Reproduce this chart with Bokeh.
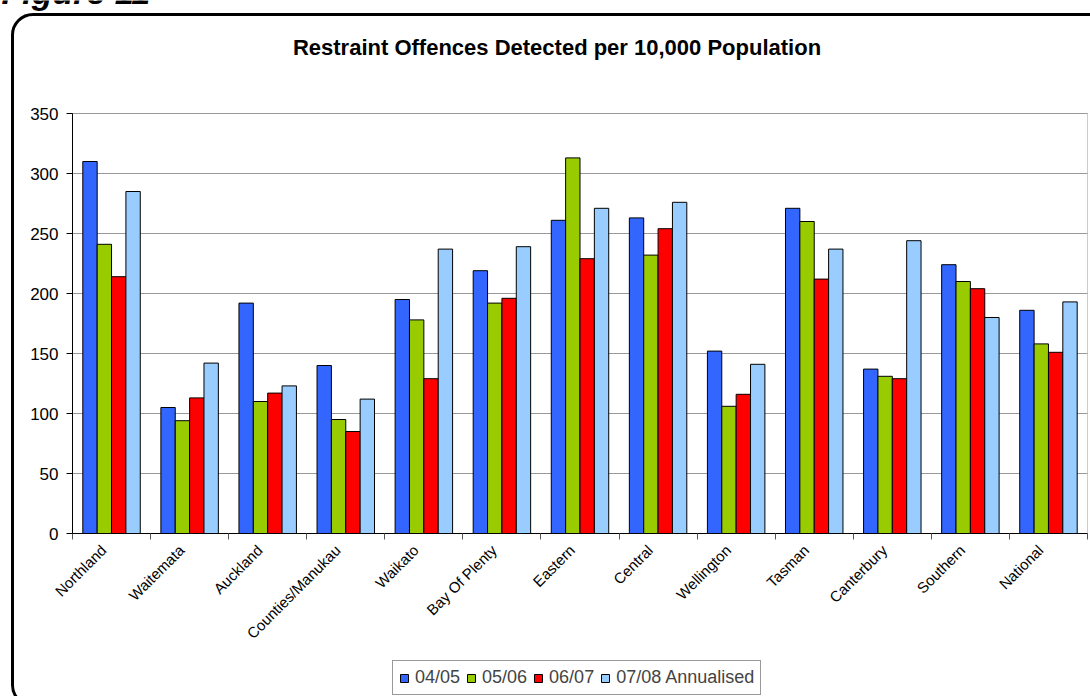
from math import pi

from bokeh.core.properties import value
from bokeh.embed import file_html
from bokeh.models import (BoxAnnotation, ColumnDataSource, FixedTicker,
                          InlineStyleSheet, Legend, LegendItem, Range1d)
from bokeh.plotting import figure
from bokeh.resources import INLINE

# Police districts and national total
regions = ["Northland", "Waitemata", "Auckland", "Counties/Manukau", "Waikato",
           "Bay Of Plenty", "Eastern", "Central", "Wellington", "Tasman",
           "Canterbury", "Southern", "National"]

# Restraint offences detected per 10,000 population, by financial year
y0405 = [310, 105, 192, 140, 195, 219, 261, 263, 152, 271, 137, 224, 186]
y0506 = [241, 94, 110, 95, 178, 192, 313, 232, 106, 260, 131, 210, 158]
y0607 = [214, 113, 117, 85, 129, 196, 229, 254, 116, 212, 129, 204, 151]
y0708 = [285, 142, 123, 112, 237, 239, 271, 276, 141, 237, 244, 180, 193]

series_names = ["04/05", "05/06", "06/07", "07/08 Annualised"]
series_values = [y0405, y0506, y0607, y0708]
series_colors = ["#3366FF", "#99CC00", "#FF0000", "#99CCFF"]

y_ticks = [0, 50, 100, 150, 200, 250, 300, 350]
Y_MAX = 350

FONT = "Liberation Sans"

# page geometry (pixels): the plotting area sits inside a larger canvas that
# also carries the heading, the slanted names and the legend
W, H = 1090, 696
AREA_L, AREA_R, AREA_T, AREA_B = 72, 1087, 113, 533
n = len(regions)
ppx = (AREA_R - AREA_L) / n
ppy = (AREA_B - AREA_T) / Y_MAX


def px_x(px):
    return (px - AREA_L) / ppx


def px_y(py):
    return (AREA_B - py) / ppy


bar_w = 0.184
offsets = [-1.5 * bar_w, -0.5 * bar_w, 0.5 * bar_w, 1.5 * bar_w]

# rounded black frame drawn around the chart by the page itself
frame_css = InlineStyleSheet(css="""
:host { position: relative; overflow: hidden; }
:host::after {
  content: "";
  position: absolute;
  left: 11px; top: 13px; width: 1110px; height: 694px;
  box-sizing: border-box;
  border: 3px solid #000000;
  border-radius: 22px;
  pointer-events: none;
}
""")

p = figure(width=W, height=H, output_backend="svg", toolbar_location=None,
           x_range=Range1d(px_x(0), px_x(W)), y_range=Range1d(px_y(H), px_y(0)),
           x_axis_location="above", y_axis_location="right",
           min_border=0, stylesheets=[frame_css])
p.title.visible = False
p.background_fill_color = "white"
p.border_fill_color = "white"
p.outline_line_color = None
p.xgrid.visible = False
p.ygrid.visible = False

# horizontal gridlines across the plotting area
grid_src = ColumnDataSource(dict(x0=[0] * len(y_ticks), x1=[n] * len(y_ticks), y=y_ticks))
p.segment(x0="x0", x1="x1", y0="y", y1="y", source=grid_src,
          line_color="#999999", line_width=1)

# border of the plotting area
p.add_layout(BoxAnnotation(left=0, right=n, bottom=0, top=Y_MAX, fill_color=None,
                           fill_alpha=0, line_color="#555555", line_width=1,
                           level="underlay"))

centers = [i + 0.5 for i in range(n)]
renderers = []
for name, vals, col, off in zip(series_names, series_values, series_colors, offsets):
    src = ColumnDataSource(dict(x=[c + off for c in centers], top=vals))
    r = p.vbar(x="x", top="top", width=bar_w, bottom=0, source=src,
               fill_color=col, line_color="black", line_width=1)
    renderers.append(r)

# category axis pinned to y = 0, short downward ticks at the group boundaries
xax = p.xaxis[0]
xax.fixed_location = 0
xax.bounds = (0, n)
xax.ticker = FixedTicker(ticks=[], minor_ticks=list(range(n + 1)))
xax.major_tick_out = 0
xax.major_tick_in = 0
xax.minor_tick_out = 0
xax.minor_tick_in = 6
xax.minor_tick_line_color = "#555555"
xax.axis_line_color = "black"
xax.major_label_standoff = 0

# value axis pinned to x = 0, ticks pointing left
yax = p.yaxis[0]
yax.fixed_location = 0
yax.bounds = (0, Y_MAX)
yax.ticker = FixedTicker(ticks=[], minor_ticks=y_ticks)
yax.major_tick_out = 0
yax.major_tick_in = 0
yax.minor_tick_out = 0
yax.minor_tick_in = 6
yax.minor_tick_line_color = "black"
yax.axis_line_color = "black"
yax.major_label_standoff = 0

# value labels to the left of the axis
p.text(x=[0] * len(y_ticks), y=y_ticks, text=[str(v) for v in y_ticks],
       x_offset=-14, text_align="right", text_baseline="middle",
       text_font=value(FONT), text_font_size=value("17px"), text_color="black")

# slanted district names under each group
p.text(x=centers, y=[0] * n, text=regions, angle=pi / 4,
       x_offset=-8, y_offset=14, text_align="right", text_baseline="middle",
       text_font=value(FONT), text_font_size=value("15px"), text_color="black")

# heading
p.text(x=[px_x(556.5)], y=[px_y(47)],
       text=["Restraint Offences Detected per 10,000 Population"],
       text_align="center", text_baseline="alphabetic",
       text_font=value(FONT), text_font_size=value("22px"),
       text_font_style="bold", text_color="black")

p.text(x=[px_x(1)], y=[px_y(-9)], text=["Figure 11"],
       text_align="left", text_baseline="alphabetic",
       text_font=value(FONT), text_font_size=value("34px"),
       text_font_style="bold italic", text_color="black")

legend = Legend(items=[LegendItem(label=nm, renderers=[r]) for nm, r in zip(series_names, renderers)],
                orientation="horizontal", location=(392, 1),
                label_text_font=FONT, label_text_font_size="18px",
                glyph_width=10, glyph_height=10, label_standoff=6, spacing=6,
                padding=6, margin=0, border_line_color="#333333",
                border_line_width=1, background_fill_color="white",
                background_fill_alpha=1)
p.add_layout(legend, "center")

open("out.html", "w").write(file_html(p, INLINE))
